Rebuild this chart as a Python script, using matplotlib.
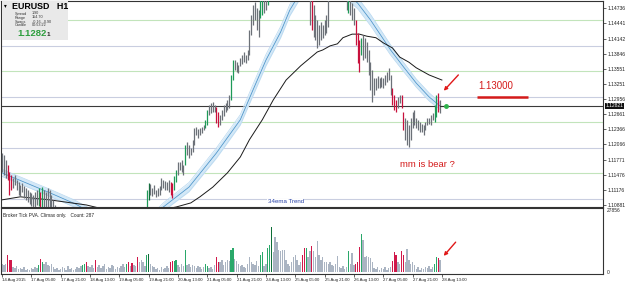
import numpy as np
import matplotlib.pyplot as plt
from matplotlib.patches import Rectangle
import matplotlib.transforms as mtransforms

plt.rcParams['font.family'] = ['Liberation Sans', 'DejaVu Sans']

# --- EURUSD H1, 14-28 Aug 2015 ---
HIGH = [
    1.1190, 1.1186, 1.1176, 1.1167, 1.1153, 1.1147, 1.1141, 1.1147, 1.1137, 1.1133,
    1.1127, 1.1131, 1.1125, 1.1122, 1.1118, 1.1114, 1.1112, 1.1108, 1.1114, 1.1118,
    1.1122, 1.1114, 1.1123, 1.1118, 1.1114, 1.1122, 1.1118, 1.1108, 1.1098, 1.1088,
    1.1078, 1.1072, 1.1066, 1.1070, 1.1062, 1.1058, 1.1065, 1.1060, 1.1055, 1.1050,
    1.1058, 1.1062, 1.1055, 1.1048, 1.1052, 1.1060, 1.1068, 1.1072, 1.1065, 1.1058,
    1.1050, 1.1045, 1.1040, 1.1048, 1.1055, 1.1050, 1.1044, 1.1038, 1.1042, 1.1048,
    1.1056, 1.1062, 1.1058, 1.1052, 1.1046, 1.1040, 1.1036, 1.1042, 1.1050, 1.1058,
    1.1064, 1.1070, 1.1066, 1.1060, 1.1068, 1.1074, 1.1078, 1.1080, 1.1082, 1.1118,
    1.1131, 1.1129, 1.1122, 1.1127, 1.1118, 1.1122, 1.1125, 1.1141, 1.1137, 1.1135,
    1.1133, 1.1137, 1.1133, 1.1131, 1.1145, 1.1157, 1.1172, 1.1172, 1.1176, 1.1167,
    1.1206, 1.1212, 1.1206, 1.1200, 1.1216, 1.1239, 1.1241, 1.1237, 1.1239, 1.1241,
    1.1245, 1.1255, 1.1274, 1.1284, 1.1288, 1.1290, 1.1284, 1.1280, 1.1270, 1.1265,
    1.1274, 1.1284, 1.1288, 1.1294, 1.1304, 1.1343, 1.1372, 1.1372, 1.1368, 1.1363,
    1.1376, 1.1382, 1.1388, 1.1382, 1.1392, 1.1431, 1.1461, 1.1480, 1.1486, 1.1474,
    1.1470, 1.1500, 1.1496, 1.1490, 1.1494, 1.1500, 1.1530, 1.1610, 1.1650, 1.1714,
    1.1680, 1.1640, 1.1600, 1.1620, 1.1590, 1.1570, 1.1580, 1.1560, 1.1575, 1.1590,
    1.1600, 1.1580, 1.1560, 1.1545, 1.1560, 1.1550, 1.1540, 1.1530, 1.1500, 1.1494,
    1.1480, 1.1461, 1.1451, 1.1441, 1.1447, 1.1441, 1.1451, 1.1461, 1.1500, 1.1530,
    1.1550, 1.1560, 1.1545, 1.1550, 1.1535, 1.1540, 1.1525, 1.1515, 1.1500, 1.1496,
    1.1490, 1.1484, 1.1474, 1.1451, 1.1425, 1.1412, 1.1416, 1.1421, 1.1416, 1.1408,
    1.1392, 1.1368, 1.1353, 1.1337, 1.1337, 1.1341, 1.1337, 1.1339, 1.1337, 1.1343,
    1.1349, 1.1357, 1.1343, 1.1318, 1.1304, 1.1294, 1.1300, 1.1304, 1.1304, 1.1270,
    1.1259, 1.1255, 1.1245, 1.1259, 1.1270, 1.1274, 1.1259, 1.1255, 1.1251, 1.1247,
    1.1245, 1.1251, 1.1259, 1.1259, 1.1265, 1.1269, 1.1284, 1.1304, 1.1308, 1.1294,
]
LOW = [
    1.1153, 1.1147, 1.1141, 1.1137, 1.1108, 1.1118, 1.1122, 1.1127, 1.1118, 1.1108,
    1.1106, 1.1114, 1.1102, 1.1098, 1.1094, 1.1090, 1.1086, 1.1078, 1.1082, 1.1088,
    1.1086, 1.1078, 1.1078, 1.1084, 1.1082, 1.1078, 1.1078, 1.1074, 1.1069, 1.1059,
    1.1050, 1.1046, 1.1040, 1.1044, 1.1036, 1.1030, 1.1038, 1.1034, 1.1028, 1.1024,
    1.1030, 1.1036, 1.1028, 1.1022, 1.1026, 1.1034, 1.1042, 1.1046, 1.1038, 1.1030,
    1.1024, 1.1019, 1.1017, 1.1022, 1.1028, 1.1024, 1.1018, 1.1017, 1.1020, 1.1024,
    1.1030, 1.1036, 1.1032, 1.1026, 1.1020, 1.1018, 1.1017, 1.1020, 1.1026, 1.1034,
    1.1040, 1.1046, 1.1040, 1.1036, 1.1042, 1.1050, 1.1054, 1.1058, 1.1060, 1.1078,
    1.1098, 1.1108, 1.1106, 1.1110, 1.1104, 1.1106, 1.1108, 1.1118, 1.1122, 1.1118,
    1.1118, 1.1114, 1.1108, 1.1102, 1.1118, 1.1133, 1.1147, 1.1157, 1.1153, 1.1147,
    1.1167, 1.1186, 1.1180, 1.1186, 1.1192, 1.1206, 1.1225, 1.1220, 1.1225, 1.1229,
    1.1235, 1.1239, 1.1245, 1.1265, 1.1269, 1.1270, 1.1270, 1.1249, 1.1241, 1.1245,
    1.1255, 1.1263, 1.1270, 1.1274, 1.1278, 1.1294, 1.1333, 1.1353, 1.1349, 1.1347,
    1.1361, 1.1365, 1.1368, 1.1367, 1.1372, 1.1382, 1.1421, 1.1441, 1.1451, 1.1431,
    1.1417, 1.1455, 1.1461, 1.1465, 1.1470, 1.1480, 1.1495, 1.1500, 1.1560, 1.1600,
    1.1590, 1.1560, 1.1530, 1.1550, 1.1540, 1.1520, 1.1530, 1.1515, 1.1530, 1.1540,
    1.1550, 1.1530, 1.1510, 1.1500, 1.1505, 1.1495, 1.1495, 1.1492, 1.1441, 1.1431,
    1.1417, 1.1412, 1.1396, 1.1402, 1.1412, 1.1416, 1.1421, 1.1425, 1.1437, 1.1492,
    1.1500, 1.1510, 1.1505, 1.1500, 1.1495, 1.1498, 1.1492, 1.1490, 1.1470, 1.1465,
    1.1461, 1.1451, 1.1441, 1.1402, 1.1367, 1.1349, 1.1382, 1.1372, 1.1376, 1.1368,
    1.1343, 1.1314, 1.1290, 1.1304, 1.1314, 1.1318, 1.1318, 1.1319, 1.1318, 1.1323,
    1.1329, 1.1333, 1.1304, 1.1284, 1.1274, 1.1270, 1.1278, 1.1288, 1.1278, 1.1235,
    1.1216, 1.1206, 1.1202, 1.1216, 1.1239, 1.1245, 1.1239, 1.1235, 1.1231, 1.1231,
    1.1225, 1.1235, 1.1245, 1.1247, 1.1245, 1.1255, 1.1251, 1.1261, 1.1270, 1.1269,
]
VOLUME = [
    3500, 3000, 3500, 7400, 5200, 5200, 2200, 1700, 2600, 1300,
    1700, 1300, 2200, 900, 1300, 900, 1700, 1300, 2200, 1700,
    3000, 5650, 4350, 3500, 4350, 3000, 2600, 3500, 2200, 1300,
    1700, 900, 1300, 2200, 1700, 900, 2600, 1300, 1700, 900,
    1300, 2200, 1700, 2600, 3000, 3500, 4350, 2600, 2200, 3000,
    1700, 5200, 2200, 3000, 1700, 2600, 3500, 1300, 2200, 1700,
    3000, 2600, 1300, 2200, 1700, 2600, 3500, 2200, 3500, 4350,
    2600, 3900, 3000, 2600, 6500, 4350, 5200, 4350, 2600, 7400,
    7800, 3500, 2600, 2200, 1300, 1700, 900, 2200, 1300, 1700,
    2600, 1700, 4350, 4800, 4800, 5200, 3000, 2200, 3500, 2600,
    9600, 3000, 3500, 2200, 3000, 2600, 1700, 2600, 2200, 1300,
    2200, 3500, 2600, 1700, 2200, 1300, 3000, 6500, 4350, 4350,
    5200, 3000, 4350, 5200, 4800, 9600, 10400, 5650, 4800, 3500,
    2600, 3000, 2200, 1700, 3500, 6500, 4350, 3500, 3000, 4800,
    2600, 7400, 8700, 2600, 3500, 10400, 11700, 19600, 8700, 15200,
    13000, 9600, 9100, 9600, 9600, 5200, 3500, 2600, 4350, 6500,
    7400, 5200, 3000, 4350, 7400, 10400, 10400, 6500, 9100, 11300,
    9100, 6500, 13500, 7400, 5200, 6500, 4350, 4350, 3500, 4350,
    3000, 2600, 3500, 6900, 2200, 1700, 2600, 1300, 2200, 9100,
    3500, 8300, 3000, 3500, 4350, 10900, 16500, 13900, 6500, 6900,
    6500, 6000, 4350, 1700, 1300, 2200, 900, 1700, 1300, 2200,
    900, 1700, 2200, 4800, 8700, 7400, 4350, 3500, 9100, 7400,
    4350, 10000, 5200, 3500, 4350, 3000, 1300, 2200, 900, 1700,
    1300, 2200, 1700, 2600, 1300, 2200, 3500, 6500, 6100, 5200,
]
# climax bars (PVA colouring)
GREEN_BARS = [20, 22, 44, 45, 68, 79, 94, 95, 100, 111, 112, 125, 126, 141, 142,
              145, 146, 166, 189, 196, 236, 237]
DARK_GREEN_BARS = [80, 147]
RED_BARS = [3, 4, 5, 21, 46, 51, 69, 71, 74, 92, 93, 117, 118, 164, 165, 169,
            193, 194, 195, 213, 214, 215, 218, 219, 238]

# 34 ema wave (centre + half width) and slow ma, sampled along the bars
BAND_IDX = [0, 12, 26, 40, 48, 59, 70, 81, 88, 102, 117, 130, 137, 144, 152, 157,
            163, 173, 184, 194, 201, 212, 219, 226, 233, 239]
BAND_MID = [1.1151, 1.1133, 1.1112, 1.1090, 1.1074, 1.1059, 1.1051, 1.1059, 1.1084,
            1.1123, 1.1190, 1.1255, 1.1314, 1.1372, 1.1427, 1.1470, 1.1506, 1.1529,
            1.1514, 1.1484, 1.1451, 1.1392, 1.1359, 1.1327, 1.1300, 1.1282]
BAND_HALF = [0.0007, 0.0007, 0.0007, 0.0007, 0.0007, 0.0007, 0.0007, 0.0008, 0.0008,
             0.0009, 0.0010, 0.0010, 0.0011, 0.0011, 0.0011, 0.0011, 0.0011, 0.0011,
             0.0011, 0.0011, 0.0011, 0.0010, 0.0009, 0.0008, 0.0008, 0.0007]
SLOW_IDX = [0, 10, 26, 46, 53, 70, 86, 95, 103, 108, 115, 123, 130, 135, 142, 148,
            155, 163, 168, 172, 175, 179, 183, 186, 191, 195, 199, 204, 208, 213,
            217, 222, 226, 233, 240]
SLOW_MA = [1.1098, 1.1104, 1.1098, 1.1088, 1.1082, 1.1074, 1.1078, 1.1084, 1.1092,
           1.1104, 1.1123, 1.1151, 1.1182, 1.1216, 1.1255, 1.1294, 1.1333, 1.1361,
           1.1376, 1.1388, 1.1392, 1.1400, 1.1404, 1.1416, 1.1423, 1.1423, 1.1419,
           1.1416, 1.1406, 1.1396, 1.1378, 1.1368, 1.1357, 1.1343, 1.1333]

PRICE_TICKS = [1.14736, 1.14441, 1.14142, 1.13846, 1.13551, 1.13251, 1.12956,
               1.12661, 1.12366, 1.12066, 1.11771, 1.11476, 1.11176, 1.10881]
GRID_LEVELS = [1.145, 1.140, 1.135, 1.130, 1.125, 1.120, 1.115, 1.110]
LAST_PRICE = 1.12821
LEVEL = 1.13000
VOL_MAX = 27856
DATE_LABELS = ["14 Aug 2015", "17 Aug 05:00", "17 Aug 21:00", "18 Aug 13:00",
               "19 Aug 05:00", "19 Aug 21:00", "20 Aug 13:00", "21 Aug 05:00",
               "21 Aug 21:00", "24 Aug 13:00", "25 Aug 05:00", "25 Aug 21:00",
               "26 Aug 13:00", "27 Aug 05:00", "27 Aug 21:00", "28 Aug 13:00"]
BARS_PER_LABEL = 16

W, H = 625, 284
def box(x0, y0, x1, y1):
    return [x0 / W, 1 - y1 / H, (x1 - x0) / W, (y1 - y0) / H]

idx = np.arange(len(HIGH))
price_col, vol_col = [], []
for i in idx:
    if i in GREEN_BARS:
        price_col.append('#1e9a58'); vol_col.append('#2aa86a')
    elif i in DARK_GREEN_BARS:
        price_col.append('#0e6e38'); vol_col.append('#0e6e38')
    elif i in RED_BARS:
        price_col.append('#c8103c'); vol_col.append('#d0184a')
    else:
        price_col.append('#6c7178'); vol_col.append('#aab4c2')

fig = plt.figure(figsize=(W / 100, H / 100), dpi=100)
ax = fig.add_axes(box(1, 1, 603, 207))
axv = fig.add_axes(box(1, 208, 603, 274))
xmin, xmax = -0.55, 327.9

# --- price panel ---
for k, lv in enumerate(GRID_LEVELS):
    ax.axhline(lv, color='#c2e4bb' if k % 2 == 0 else '#c9cee0', lw=0.8, zorder=0)
ax.axhline(LAST_PRICE, color='#3a3a3a', lw=0.8, zorder=1)

mid = np.array(BAND_MID); half = np.array(BAND_HALF)
ax.fill_between(BAND_IDX, mid - half, mid + half, color='#d3e8f7', lw=0, zorder=1)
ax.plot(BAND_IDX, mid + half, color='#b8d8f0', lw=0.5, zorder=1)
ax.plot(BAND_IDX, mid - half, color='#b8d8f0', lw=0.5, zorder=1)
ax.plot(BAND_IDX, mid, color='#4a92c8', lw=0.55, zorder=2)
ax.plot(SLOW_IDX, SLOW_MA, color='#1a1a1a', lw=0.7, zorder=2)

ax.vlines(idx, LOW, HIGH, colors=price_col, lw=0.9, zorder=3)

# current price marker
ax.plot([idx[-1], idx[-1] + 3.5], [LAST_PRICE, LAST_PRICE], color='#333333', lw=0.8, zorder=4)
ax.plot(idx[-1] + 3.5, LAST_PRICE, 'o', color='#2db34a', ms=2.5, zorder=5)

# user drawings
ax.hlines(LEVEL, 259, 287, color='#d41a1a', lw=1.8, zorder=4)
ax.text(260, LEVEL + 0.0012, "1.13000", color='#d41a1a', fontsize=7, va='bottom', ha='left')
ax.annotate("", xy=(240, 1.1308), xytext=(250, 1.1347),
            arrowprops=dict(arrowstyle='-|>', color='#e01818', lw=1.0, mutation_scale=5))
ax.text(217, 1.1168, "mm is bear ?", color='#d41a1a', fontsize=6.8, va='center', ha='left')
ax.text(145, 1.1094, "34ema Trend", color='#2a44a8', fontsize=4.4, va='center', ha='left',
        bbox=dict(facecolor='white', edgecolor='none', pad=0.3))

ax.set_xlim(xmin, xmax)
ax.set_ylim(1.1084, 1.1488)
ax.set_xticks([])
ax.yaxis.tick_right()
ax.set_yticks(PRICE_TICKS)
ax.set_yticklabels([f"{t:.5f}" for t in PRICE_TICKS])
ax.tick_params(axis='y', labelsize=3.6, length=2, width=0.5, pad=1, colors='#222222')
for s in ax.spines.values():
    s.set_linewidth(0.8); s.set_color('#333333')

trans = mtransforms.blended_transform_factory(ax.transAxes, ax.transData)
ax.text(1.0045, LAST_PRICE, f"{LAST_PRICE:.5f}", transform=trans, fontsize=3.6, color='white',
        va='center', ha='left', bbox=dict(facecolor='#111111', edgecolor='none', pad=0.5))

# --- volume panel ---
axv.bar(idx, VOLUME, width=0.75, color=vol_col, lw=0)
axv.annotate("", xy=(240, 6100), xytext=(248.5, 13900),
             arrowprops=dict(arrowstyle='-|>', color='#e01818', lw=1.0, mutation_scale=5))
axv.set_xlim(xmin, xmax)
axv.set_ylim(-870, VOL_MAX)
axv.yaxis.tick_right()
axv.set_yticks([0, VOL_MAX - 900])
axv.set_yticklabels(["0", str(VOL_MAX)])
axv.tick_params(axis='y', labelsize=3.5, length=0, pad=3, colors='#222222')
tick_pos = np.arange(len(DATE_LABELS)) * BARS_PER_LABEL
axv.set_xticks(tick_pos)
axv.set_xticklabels(DATE_LABELS)
axv.tick_params(axis='x', labelsize=3.1, length=2, width=0.5, pad=0.8, colors='#222222')
for lbl in axv.get_xticklabels():
    lbl.set_ha('left')
for s in axv.spines.values():
    s.set_linewidth(0.8); s.set_color('#333333')
axv.text(0.004, 0.93, "Broker Tick PVA. Climax only.   Count: 287", transform=axv.transAxes,
         fontsize=3.4, va='top', ha='left', color='#222222')

# --- info box ---
fig.patches.append(Rectangle((2 / W, 1 - 40 / H), 66 / W, 39 / H, transform=fig.transFigure,
                             facecolor='#e9e9e9', edgecolor='none', zorder=10))
def ft(x, y, s, **kw):
    fig.text(x / W, 1 - y / H, s, zorder=11, **kw)
ft(4, 6, "\u25be", fontsize=4, va='center', family='DejaVu Sans')
ft(12, 6.5, "EURUSD   H1", fontsize=6.4, fontweight='bold', va='center')
for k, (a, b) in enumerate([("Spread", "1.90"), ("Range", "154.70"),
                            ("Swaps", "-0.16, -0.90"), ("Candle", "00:53:22")]):
    ft(15, 13.5 + 4.0 * k, a, fontsize=2.7, va='center', color='#333333')
    ft(32, 13.5 + 4.0 * k, b, fontsize=2.7, va='center', color='#333333')
ft(17, 33, "1.1282", fontsize=6.8, fontweight='bold', color='#2e9e3e', va='center')
ft(47, 34, "1", fontsize=4.5, fontweight='bold', color='#222222', va='center')

fig.savefig("out.png", dpi=100)
